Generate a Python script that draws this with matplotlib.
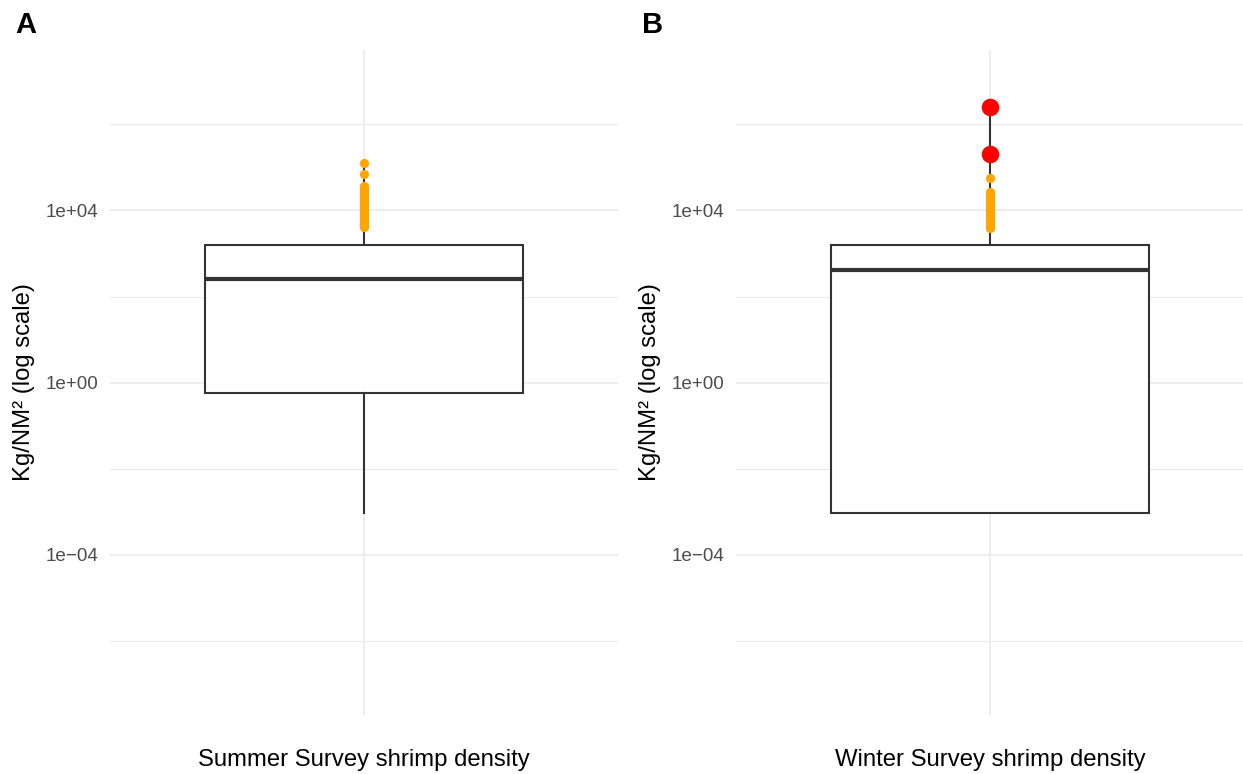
import matplotlib
matplotlib.use("Agg")
import matplotlib.pyplot as plt
from matplotlib.ticker import FixedLocator, FixedFormatter, NullFormatter

plt.rcParams['font.family'] = ['Liberation Sans', 'DejaVu Sans']

# box summaries (Kg/NM2)
summer_box = dict(q1=0.567, med=259, q3=1596, whislo=0.00096, whishi=124000)
winter_box = dict(q1=0.00096, med=413, q3=1571, whislo=0.00096, whishi=2470000)

# high-density hauls shown as points
summer_high = [124000, 70000, 36800, 33000, 29500, 26500, 23500, 21000, 18800,
               16800, 15000, 13400, 12000, 10700, 9600, 8600, 7700, 6900,
               6200, 5500, 4900, 4500, 4200]
winter_high = [57400, 26700, 24000, 21500, 19200, 17200, 15400, 13800, 12300,
               11000, 9800, 8800, 7900, 7000, 6300, 5600, 5000, 4500, 4200, 3900]
winter_extreme = [2470000, 207000]

panel_titles = ["Summer Survey shrimp density", "Winter Survey shrimp density"]
panel_tags = ["A", "B"]
major_ticks = [1e-4, 1e0, 1e4]
minor_ticks = [1e-6, 1e-2, 1e2, 1e6]

W, H = 1243, 774
fig = plt.figure(figsize=(W / 100, H / 100), dpi=100)

grid_col = "#EBEBEB"
line_col = "#333333"

def draw_panel(left, box, high, extreme, title, tag, tag_x):
    ax = fig.add_axes([left / W, (H - 715) / H, 508 / W, 665 / H])
    stats = [dict(box, label="")]
    ax.bxp(stats, positions=[1], widths=0.75, showcaps=False, showfliers=False,
           patch_artist=True,
           boxprops=dict(facecolor="white", edgecolor=line_col, linewidth=1.5),
           whiskerprops=dict(color=line_col, linewidth=1.5),
           medianprops=dict(color=line_col, linewidth=3.0, solid_capstyle="butt"),
           zorder=2)
    ax.scatter([1] * len(high), high, s=44, color="orange", linewidths=0, zorder=3)
    if extreme:
        ax.scatter([1] * len(extreme), extreme, s=160, color="red", linewidths=0, zorder=4)

    ax.set_yscale("log")
    ax.set_ylim(10 ** -7.715, 10 ** 7.723)
    ax.set_xlim(0.4, 1.6)
    ax.yaxis.set_major_locator(FixedLocator(major_ticks))
    ax.yaxis.set_major_formatter(FixedFormatter(
        [f"{v:.0e}".replace("-", "\u2212") for v in major_ticks]))
    ax.yaxis.set_minor_locator(FixedLocator(minor_ticks))
    ax.yaxis.set_minor_formatter(NullFormatter())
    ax.set_xticks([1])
    ax.set_xticklabels([""])

    ax.grid(True, which="major", color=grid_col, linewidth=1.2, zorder=0)
    ax.grid(True, which="minor", axis="y", color=grid_col, linewidth=0.8, zorder=0)
    ax.set_axisbelow(True)
    for s in ax.spines.values():
        s.set_visible(False)
    ax.tick_params(which="both", length=0)
    ax.tick_params(axis="y", labelsize=13.6, labelcolor="#4D4D4D", pad=8.6)

    ax.set_ylabel("Kg/NM² (log scale)", fontsize=17.2, color="black")
    ax.yaxis.set_label_coords(-86 / 508, 0.5)
    ax.yaxis.label.set_verticalalignment("center")
    ax.set_xlabel(title, fontsize=17.2, color="black")
    ax.xaxis.set_label_coords(0.5, -45 / 665)
    ax.xaxis.label.set_verticalalignment("center")

    fig.text(tag_x / W, 1 - 33 / H, tag, fontsize=21, fontweight="bold",
             ha="left", va="baseline")
    return ax

draw_panel(110, summer_box, summer_high, None, panel_titles[0], panel_tags[0], 15)
draw_panel(736, winter_box, winter_high, winter_extreme, panel_titles[1], panel_tags[1], 642)

fig.savefig("out.png", dpi=100)
